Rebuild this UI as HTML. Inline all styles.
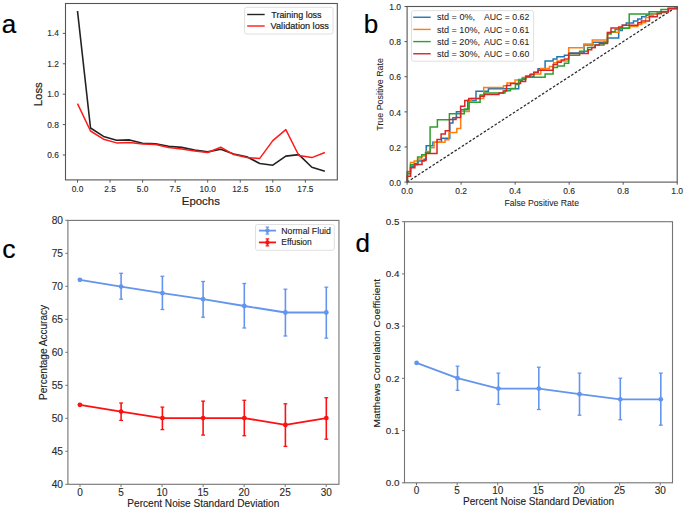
<!DOCTYPE html>
<html><head><meta charset="utf-8"><style>
html,body{margin:0;padding:0;background:#fff;overflow:hidden;width:685px;height:512px;}
svg{display:block;font-family:"Liberation Sans", sans-serif;}
</style></head><body>
<svg width="685" height="512" viewBox="0 0 685 512">
<rect width="685" height="512" fill="#fff"/>
<text x="1.80" y="32.80" font-size="26" text-anchor="start" fill="#000" stroke="#000" stroke-width="0.2" >a</text>
<rect x="65.50" y="3.50" width="271.80" height="176.40" fill="none" stroke="#555" stroke-width="1.1"/>
<line x1="62.80" y1="155.00" x2="65.50" y2="155.00" stroke="#555" stroke-width="1" />
<text x="58.80" y="157.90" font-size="8.4" text-anchor="end" fill="#2a2a2a" stroke="#2a2a2a" stroke-width="0.12" >0.6</text>
<line x1="62.80" y1="124.60" x2="65.50" y2="124.60" stroke="#555" stroke-width="1" />
<text x="58.80" y="127.50" font-size="8.4" text-anchor="end" fill="#2a2a2a" stroke="#2a2a2a" stroke-width="0.12" >0.8</text>
<line x1="62.80" y1="94.20" x2="65.50" y2="94.20" stroke="#555" stroke-width="1" />
<text x="58.80" y="97.10" font-size="8.4" text-anchor="end" fill="#2a2a2a" stroke="#2a2a2a" stroke-width="0.12" >1.0</text>
<line x1="62.80" y1="63.80" x2="65.50" y2="63.80" stroke="#555" stroke-width="1" />
<text x="58.80" y="66.70" font-size="8.4" text-anchor="end" fill="#2a2a2a" stroke="#2a2a2a" stroke-width="0.12" >1.2</text>
<line x1="62.80" y1="33.40" x2="65.50" y2="33.40" stroke="#555" stroke-width="1" />
<text x="58.80" y="36.30" font-size="8.4" text-anchor="end" fill="#2a2a2a" stroke="#2a2a2a" stroke-width="0.12" >1.4</text>
<line x1="77.50" y1="179.90" x2="77.50" y2="182.60" stroke="#555" stroke-width="1" />
<text x="77.50" y="191.90" font-size="8.3" text-anchor="middle" fill="#2a2a2a" stroke="#2a2a2a" stroke-width="0.12" >0.0</text>
<line x1="110.05" y1="179.90" x2="110.05" y2="182.60" stroke="#555" stroke-width="1" />
<text x="110.05" y="191.90" font-size="8.3" text-anchor="middle" fill="#2a2a2a" stroke="#2a2a2a" stroke-width="0.12" >2.5</text>
<line x1="142.60" y1="179.90" x2="142.60" y2="182.60" stroke="#555" stroke-width="1" />
<text x="142.60" y="191.90" font-size="8.3" text-anchor="middle" fill="#2a2a2a" stroke="#2a2a2a" stroke-width="0.12" >5.0</text>
<line x1="175.15" y1="179.90" x2="175.15" y2="182.60" stroke="#555" stroke-width="1" />
<text x="175.15" y="191.90" font-size="8.3" text-anchor="middle" fill="#2a2a2a" stroke="#2a2a2a" stroke-width="0.12" >7.5</text>
<line x1="207.70" y1="179.90" x2="207.70" y2="182.60" stroke="#555" stroke-width="1" />
<text x="207.70" y="191.90" font-size="8.3" text-anchor="middle" fill="#2a2a2a" stroke="#2a2a2a" stroke-width="0.12" >10.0</text>
<line x1="240.25" y1="179.90" x2="240.25" y2="182.60" stroke="#555" stroke-width="1" />
<text x="240.25" y="191.90" font-size="8.3" text-anchor="middle" fill="#2a2a2a" stroke="#2a2a2a" stroke-width="0.12" >12.5</text>
<line x1="272.80" y1="179.90" x2="272.80" y2="182.60" stroke="#555" stroke-width="1" />
<text x="272.80" y="191.90" font-size="8.3" text-anchor="middle" fill="#2a2a2a" stroke="#2a2a2a" stroke-width="0.12" >15.0</text>
<line x1="305.35" y1="179.90" x2="305.35" y2="182.60" stroke="#555" stroke-width="1" />
<text x="305.35" y="191.90" font-size="8.3" text-anchor="middle" fill="#2a2a2a" stroke="#2a2a2a" stroke-width="0.12" >17.5</text>
<text x="200.85" y="205.30" font-size="11.5" text-anchor="middle" fill="#222" stroke="#222" stroke-width="0.2" textLength="38.00" lengthAdjust="spacingAndGlyphs" >Epochs</text>
<text x="42.00" y="94.20" font-size="11.5" text-anchor="middle" fill="#222" stroke="#222" stroke-width="0.2" textLength="24.00" lengthAdjust="spacingAndGlyphs" transform="rotate(-90 42.00 94.20)" >Loss</text>
<polyline points="77.50,11.00 90.52,128.00 103.54,136.40 116.56,140.30 129.58,139.90 142.60,143.30 155.62,143.90 168.64,146.20 181.66,147.40 194.68,150.00 207.70,151.90 220.72,149.30 233.74,154.00 246.76,156.70 259.78,163.50 272.80,165.20 285.82,156.10 298.84,154.60 311.86,167.30 324.88,171.30" fill="none" stroke="#222" stroke-width="1.6" stroke-linejoin="round" />
<polyline points="77.50,103.60 90.52,131.00 103.54,139.20 116.56,142.90 129.58,142.50 142.60,144.00 155.62,144.60 168.64,147.40 181.66,149.00 194.68,151.00 207.70,152.50 220.72,147.20 233.74,154.60 246.76,157.60 259.78,158.40 272.80,140.60 285.82,129.60 298.84,155.50 311.86,157.60 324.88,152.50" fill="none" stroke="#ff1a1a" stroke-width="1.5" stroke-linejoin="round" />
<rect x="244.6" y="7.3" width="88.4" height="26.7" rx="2" fill="#fff" fill-opacity="0.8" stroke="#d8d8d8" stroke-width="0.8"/>
<line x1="247.20" y1="14.50" x2="264.70" y2="14.50" stroke="#222" stroke-width="1.4" />
<line x1="247.20" y1="26.00" x2="264.70" y2="26.00" stroke="#ff1a1a" stroke-width="1.4" />
<text x="271.30" y="17.60" font-size="9.0" text-anchor="start" fill="#222" stroke="#222" stroke-width="0.2" textLength="50.20" lengthAdjust="spacingAndGlyphs" >Training loss</text>
<text x="270.60" y="29.10" font-size="9.0" text-anchor="start" fill="#222" stroke="#222" stroke-width="0.2" textLength="58.30" lengthAdjust="spacingAndGlyphs" >Validation loss</text>
<text x="363.80" y="32.60" font-size="26" text-anchor="start" fill="#000" stroke="#000" stroke-width="0.2" >b</text>
<line x1="404.50" y1="182.10" x2="407.10" y2="182.10" stroke="#555" stroke-width="1" />
<text x="401.00" y="185.75" font-size="8.5" text-anchor="end" fill="#2a2a2a" stroke="#2a2a2a" stroke-width="0.12" >0.0</text>
<line x1="407.10" y1="182.10" x2="407.10" y2="184.70" stroke="#555" stroke-width="1" />
<text x="407.10" y="194.45" font-size="8.5" text-anchor="middle" fill="#2a2a2a" stroke="#2a2a2a" stroke-width="0.12" >0.0</text>
<line x1="404.50" y1="146.98" x2="407.10" y2="146.98" stroke="#555" stroke-width="1" />
<text x="401.00" y="150.63" font-size="8.5" text-anchor="end" fill="#2a2a2a" stroke="#2a2a2a" stroke-width="0.12" >0.2</text>
<line x1="461.12" y1="182.10" x2="461.12" y2="184.70" stroke="#555" stroke-width="1" />
<text x="461.12" y="194.45" font-size="8.5" text-anchor="middle" fill="#2a2a2a" stroke="#2a2a2a" stroke-width="0.12" >0.2</text>
<line x1="404.50" y1="111.86" x2="407.10" y2="111.86" stroke="#555" stroke-width="1" />
<text x="401.00" y="115.51" font-size="8.5" text-anchor="end" fill="#2a2a2a" stroke="#2a2a2a" stroke-width="0.12" >0.4</text>
<line x1="515.14" y1="182.10" x2="515.14" y2="184.70" stroke="#555" stroke-width="1" />
<text x="515.14" y="194.45" font-size="8.5" text-anchor="middle" fill="#2a2a2a" stroke="#2a2a2a" stroke-width="0.12" >0.4</text>
<line x1="404.50" y1="76.74" x2="407.10" y2="76.74" stroke="#555" stroke-width="1" />
<text x="401.00" y="80.39" font-size="8.5" text-anchor="end" fill="#2a2a2a" stroke="#2a2a2a" stroke-width="0.12" >0.6</text>
<line x1="569.16" y1="182.10" x2="569.16" y2="184.70" stroke="#555" stroke-width="1" />
<text x="569.16" y="194.45" font-size="8.5" text-anchor="middle" fill="#2a2a2a" stroke="#2a2a2a" stroke-width="0.12" >0.6</text>
<line x1="404.50" y1="41.62" x2="407.10" y2="41.62" stroke="#555" stroke-width="1" />
<text x="401.00" y="45.27" font-size="8.5" text-anchor="end" fill="#2a2a2a" stroke="#2a2a2a" stroke-width="0.12" >0.8</text>
<line x1="623.18" y1="182.10" x2="623.18" y2="184.70" stroke="#555" stroke-width="1" />
<text x="623.18" y="194.45" font-size="8.5" text-anchor="middle" fill="#2a2a2a" stroke="#2a2a2a" stroke-width="0.12" >0.8</text>
<line x1="404.50" y1="6.50" x2="407.10" y2="6.50" stroke="#555" stroke-width="1" />
<text x="401.00" y="10.15" font-size="8.5" text-anchor="end" fill="#2a2a2a" stroke="#2a2a2a" stroke-width="0.12" >1.0</text>
<line x1="677.20" y1="182.10" x2="677.20" y2="184.70" stroke="#555" stroke-width="1" />
<text x="677.20" y="194.45" font-size="8.5" text-anchor="middle" fill="#2a2a2a" stroke="#2a2a2a" stroke-width="0.12" >1.0</text>
<text x="541.70" y="205.70" font-size="8.7" text-anchor="middle" fill="#222" stroke="#222" stroke-width="0.05" textLength="74.50" lengthAdjust="spacingAndGlyphs" >False Positive Rate</text>
<text x="383.30" y="94.40" font-size="8.7" text-anchor="middle" fill="#222" stroke="#222" stroke-width="0.05" textLength="72.50" lengthAdjust="spacingAndGlyphs" transform="rotate(-90 383.30 94.40)" >True Positive Rate</text>
<line x1="407.10" y1="182.10" x2="677.20" y2="6.50" stroke="#2a2a2a" stroke-width="1.25" stroke-dasharray="2.6,1.75"/>
<path d="M407.1,182.1 L407.4,182.1 L407.4,173.7 L410.5,173.7 L410.5,166.2 L414.2,166.2 L414.2,163.5 L418.0,163.5 L418.0,161.0 L424.1,161.0 L424.1,159.3 L426.2,159.3 L426.2,145.7 L432.9,145.7 L432.9,142.2 L441.5,142.2 L441.5,138.3 L449.8,138.3 L449.8,123.1 L452.9,123.1 L452.9,117.7 L456.4,117.7 L456.4,111.8 L461.0,111.8 L461.0,109.8 L467.7,109.8 L467.7,100.5 L476.0,100.5 L476.0,91.3 L488.4,91.3 L488.4,88.7 L518.7,88.7 L518.7,79.5 L525.7,79.5 L525.7,76.5 L533.9,76.5 L533.9,72.5 L538.1,72.5 L538.1,68.7 L545.1,68.7 L545.1,61.1 L553.1,61.1 L553.1,59.0 L556.9,59.0 L556.9,56.8 L564.4,56.8 L564.4,55.2 L568.7,55.2 L568.7,53.1 L584.1,53.1 L584.1,45.1 L592.9,45.1 L592.9,42.2 L607.5,42.2 L607.5,38.1 L618.7,38.1 L618.7,30.5 L622.2,30.5 L622.2,25.2 L626.3,25.2 L626.3,23.0 L633.5,23.0 L633.5,21.1 L637.8,21.1 L637.8,19.1 L641.7,19.1 L641.7,16.8 L646.0,16.8 L646.0,15.2 L649.0,15.2 L649.0,14.1 L657.3,14.1 L657.3,12.5 L668.3,12.5 L668.3,8.6 L677.1,8.6 L677.1,6.5" fill="none" stroke="#1f77b4" stroke-width="1.5" stroke-linejoin="miter"/>
<path d="M407.1,182.1 L407.4,182.1 L407.4,171.5 L410.5,171.5 L410.5,162.4 L414.2,162.4 L414.2,161.1 L417.6,161.1 L417.6,159.0 L421.7,159.0 L421.7,156.0 L425.8,156.0 L425.8,151.5 L430.3,151.5 L430.3,147.7 L434.1,147.7 L434.1,142.2 L445.0,142.2 L445.0,139.8 L448.9,139.8 L448.9,132.4 L456.8,132.4 L456.8,128.6 L460.7,128.6 L460.7,111.4 L469.2,111.4 L469.2,100.6 L471.5,100.6 L471.5,98.6 L483.7,98.6 L483.7,87.5 L503.5,87.5 L503.5,85.8 L507.0,85.8 L507.0,83.0 L515.0,83.0 L515.0,80.0 L522.2,80.0 L522.2,77.6 L527.0,77.6 L527.0,76.0 L531.0,76.0 L531.0,74.0 L540.8,74.0 L540.8,68.6 L549.4,68.6 L549.4,66.5 L553.7,66.5 L553.7,62.7 L557.0,62.7 L557.0,61.1 L568.7,61.1 L568.7,47.7 L583.9,47.7 L583.9,44.0 L592.3,44.0 L592.3,39.9 L607.5,39.9 L607.5,32.2 L619.0,32.2 L619.0,28.1 L630.0,28.1 L630.0,26.6 L637.8,26.6 L637.8,24.6 L641.7,24.6 L641.7,22.7 L645.6,22.7 L645.6,17.6 L649.1,17.6 L649.1,15.6 L653.4,15.6 L653.4,14.1 L657.3,14.1 L657.3,11.7 L668.3,11.7 L668.3,8.6 L677.1,8.6 L677.1,6.5" fill="none" stroke="#ff7f0e" stroke-width="1.5" stroke-linejoin="miter"/>
<path d="M407.1,182.1 L407.4,182.1 L407.4,171.7 L410.5,171.7 L410.5,164.8 L417.6,164.8 L417.6,157.0 L421.7,157.0 L421.7,154.7 L425.5,154.7 L425.5,152.4 L430.1,152.4 L430.1,127.0 L437.4,127.0 L437.4,119.7 L449.4,119.7 L449.4,113.8 L464.3,113.8 L464.3,109.0 L468.9,109.0 L468.9,102.3 L480.1,102.3 L480.1,95.0 L484.2,95.0 L484.2,93.0 L505.0,93.0 L505.0,90.8 L510.5,90.8 L510.5,88.5 L515.4,88.5 L515.4,84.6 L518.7,84.6 L518.7,80.2 L522.3,80.2 L522.3,78.4 L525.7,78.4 L525.7,77.3 L545.1,77.3 L545.1,74.0 L553.1,74.0 L553.1,67.6 L557.4,67.6 L557.4,66.0 L564.4,66.0 L564.4,63.3 L568.7,63.3 L568.7,55.2 L579.6,55.2 L579.6,51.3 L587.6,51.3 L587.6,47.5 L595.0,47.5 L595.0,45.0 L604.0,45.0 L604.0,42.2 L607.5,42.2 L607.5,34.0 L611.0,34.0 L611.0,31.7 L615.1,31.7 L615.1,29.5 L620.0,29.5 L620.0,28.2 L629.2,28.2 L629.2,14.1 L649.1,14.1 L649.1,11.7 L661.0,11.7 L661.0,9.5 L668.3,9.5 L668.3,8.6 L677.1,8.6 L677.1,6.5" fill="none" stroke="#2ca02c" stroke-width="1.5" stroke-linejoin="miter"/>
<path d="M407.1,182.1 L407.2,182.1 L407.2,176.2 L410.6,176.2 L410.6,167.7 L414.9,167.7 L414.9,164.5 L422.0,164.5 L422.0,160.6 L426.0,160.6 L426.0,153.4 L437.0,153.4 L437.0,139.5 L441.1,139.5 L441.1,134.0 L445.3,134.0 L445.3,130.8 L449.4,130.8 L449.4,119.6 L456.0,119.6 L456.0,117.6 L460.6,117.6 L460.6,106.3 L464.8,106.3 L464.8,100.4 L468.8,100.4 L468.8,98.4 L480.1,98.4 L480.1,96.3 L484.4,96.3 L484.4,94.6 L499.0,94.6 L499.0,92.9 L503.2,92.9 L503.2,91.1 L506.5,91.1 L506.5,85.4 L510.6,85.4 L510.6,83.4 L520.5,83.4 L520.5,81.5 L525.6,81.5 L525.6,76.3 L529.9,76.3 L529.9,74.4 L533.9,74.4 L533.9,72.2 L538.1,72.2 L538.1,70.3 L553.1,70.3 L553.1,64.4 L557.4,64.4 L557.4,62.2 L561.2,62.2 L561.2,60.1 L564.4,60.1 L564.4,59.0 L568.7,59.0 L568.7,53.5 L588.2,53.5 L588.2,49.8 L591.7,49.8 L591.7,47.5 L595.2,47.5 L595.2,45.1 L599.3,45.1 L599.3,43.4 L607.5,43.4 L607.5,32.8 L611.0,32.8 L611.0,28.1 L618.7,28.1 L618.7,27.0 L622.5,27.0 L622.5,25.3 L637.8,25.3 L637.8,22.7 L641.3,22.7 L641.3,21.1 L649.5,21.1 L649.5,16.8 L657.3,16.8 L657.3,13.7 L661.3,13.7 L661.3,11.7 L668.3,11.7 L668.3,8.6 L677.1,8.6 L677.1,6.5" fill="none" stroke="#d62728" stroke-width="1.5" stroke-linejoin="miter"/>
<rect x="407.10" y="6.50" width="270.10" height="175.60" fill="none" stroke="#555" stroke-width="1.1"/>
<rect x="411.5" y="10.6" width="122.1" height="50.6" rx="2" fill="#fff" fill-opacity="0.8" stroke="#d8d8d8" stroke-width="0.8"/>
<line x1="413.20" y1="17.25" x2="430.70" y2="17.25" stroke="#1f77b4" stroke-width="1.4" />
<text x="436.90" y="20.45" font-size="8.8" text-anchor="start" fill="#222" stroke="#222" stroke-width="0.05" textLength="38.20" lengthAdjust="spacingAndGlyphs" >std = 0%,</text>
<text x="484.00" y="20.45" font-size="8.8" text-anchor="start" fill="#222" stroke="#222" stroke-width="0.05" textLength="45.30" lengthAdjust="spacingAndGlyphs" >AUC = 0.62</text>
<line x1="413.20" y1="29.42" x2="430.70" y2="29.42" stroke="#ff7f0e" stroke-width="1.4" />
<text x="436.90" y="32.62" font-size="8.8" text-anchor="start" fill="#222" stroke="#222" stroke-width="0.05" textLength="43.20" lengthAdjust="spacingAndGlyphs" >std = 10%,</text>
<text x="484.00" y="32.62" font-size="8.8" text-anchor="start" fill="#222" stroke="#222" stroke-width="0.05" textLength="45.30" lengthAdjust="spacingAndGlyphs" >AUC = 0.61</text>
<line x1="413.20" y1="41.59" x2="430.70" y2="41.59" stroke="#2ca02c" stroke-width="1.4" />
<text x="436.90" y="44.79" font-size="8.8" text-anchor="start" fill="#222" stroke="#222" stroke-width="0.05" textLength="43.20" lengthAdjust="spacingAndGlyphs" >std = 20%,</text>
<text x="484.00" y="44.79" font-size="8.8" text-anchor="start" fill="#222" stroke="#222" stroke-width="0.05" textLength="45.30" lengthAdjust="spacingAndGlyphs" >AUC = 0.61</text>
<line x1="413.20" y1="53.76" x2="430.70" y2="53.76" stroke="#d62728" stroke-width="1.4" />
<text x="436.90" y="56.96" font-size="8.8" text-anchor="start" fill="#222" stroke="#222" stroke-width="0.05" textLength="43.20" lengthAdjust="spacingAndGlyphs" >std = 30%,</text>
<text x="484.00" y="56.96" font-size="8.8" text-anchor="start" fill="#222" stroke="#222" stroke-width="0.05" textLength="45.30" lengthAdjust="spacingAndGlyphs" >AUC = 0.60</text>
<text x="2.30" y="257.70" font-size="26.5" text-anchor="start" fill="#000" stroke="#000" stroke-width="0.2" >c</text>
<rect x="67.90" y="220.40" width="271.05" height="263.90" fill="none" stroke="#747474" stroke-width="1.1"/>
<line x1="65.30" y1="484.30" x2="67.90" y2="484.30" stroke="#747474" stroke-width="1" />
<text x="63.00" y="488.40" font-size="10.2" text-anchor="end" fill="#2a2a2a" stroke="#2a2a2a" stroke-width="0.12" >40</text>
<line x1="65.30" y1="451.30" x2="67.90" y2="451.30" stroke="#747474" stroke-width="1" />
<text x="63.00" y="455.40" font-size="10.2" text-anchor="end" fill="#2a2a2a" stroke="#2a2a2a" stroke-width="0.12" >45</text>
<line x1="65.30" y1="418.30" x2="67.90" y2="418.30" stroke="#747474" stroke-width="1" />
<text x="63.00" y="422.40" font-size="10.2" text-anchor="end" fill="#2a2a2a" stroke="#2a2a2a" stroke-width="0.12" >50</text>
<line x1="65.30" y1="385.30" x2="67.90" y2="385.30" stroke="#747474" stroke-width="1" />
<text x="63.00" y="389.40" font-size="10.2" text-anchor="end" fill="#2a2a2a" stroke="#2a2a2a" stroke-width="0.12" >55</text>
<line x1="65.30" y1="352.30" x2="67.90" y2="352.30" stroke="#747474" stroke-width="1" />
<text x="63.00" y="356.40" font-size="10.2" text-anchor="end" fill="#2a2a2a" stroke="#2a2a2a" stroke-width="0.12" >60</text>
<line x1="65.30" y1="319.30" x2="67.90" y2="319.30" stroke="#747474" stroke-width="1" />
<text x="63.00" y="323.40" font-size="10.2" text-anchor="end" fill="#2a2a2a" stroke="#2a2a2a" stroke-width="0.12" >65</text>
<line x1="65.30" y1="286.30" x2="67.90" y2="286.30" stroke="#747474" stroke-width="1" />
<text x="63.00" y="290.40" font-size="10.2" text-anchor="end" fill="#2a2a2a" stroke="#2a2a2a" stroke-width="0.12" >70</text>
<line x1="65.30" y1="253.30" x2="67.90" y2="253.30" stroke="#747474" stroke-width="1" />
<text x="63.00" y="257.40" font-size="10.2" text-anchor="end" fill="#2a2a2a" stroke="#2a2a2a" stroke-width="0.12" >75</text>
<line x1="65.30" y1="220.30" x2="67.90" y2="220.30" stroke="#747474" stroke-width="1" />
<text x="63.00" y="224.40" font-size="10.2" text-anchor="end" fill="#2a2a2a" stroke="#2a2a2a" stroke-width="0.12" >80</text>
<line x1="80.00" y1="484.30" x2="80.00" y2="486.90" stroke="#747474" stroke-width="1" />
<text x="80.00" y="495.90" font-size="10.0" text-anchor="middle" fill="#2a2a2a" stroke="#2a2a2a" stroke-width="0.12" >0</text>
<line x1="121.03" y1="484.30" x2="121.03" y2="486.90" stroke="#747474" stroke-width="1" />
<text x="121.03" y="495.90" font-size="10.0" text-anchor="middle" fill="#2a2a2a" stroke="#2a2a2a" stroke-width="0.12" >5</text>
<line x1="162.07" y1="484.30" x2="162.07" y2="486.90" stroke="#747474" stroke-width="1" />
<text x="162.07" y="495.90" font-size="10.0" text-anchor="middle" fill="#2a2a2a" stroke="#2a2a2a" stroke-width="0.12" >10</text>
<line x1="203.11" y1="484.30" x2="203.11" y2="486.90" stroke="#747474" stroke-width="1" />
<text x="203.11" y="495.90" font-size="10.0" text-anchor="middle" fill="#2a2a2a" stroke="#2a2a2a" stroke-width="0.12" >15</text>
<line x1="244.14" y1="484.30" x2="244.14" y2="486.90" stroke="#747474" stroke-width="1" />
<text x="244.14" y="495.90" font-size="10.0" text-anchor="middle" fill="#2a2a2a" stroke="#2a2a2a" stroke-width="0.12" >20</text>
<line x1="285.18" y1="484.30" x2="285.18" y2="486.90" stroke="#747474" stroke-width="1" />
<text x="285.18" y="495.90" font-size="10.0" text-anchor="middle" fill="#2a2a2a" stroke="#2a2a2a" stroke-width="0.12" >25</text>
<line x1="326.21" y1="484.30" x2="326.21" y2="486.90" stroke="#747474" stroke-width="1" />
<text x="326.21" y="495.90" font-size="10.0" text-anchor="middle" fill="#2a2a2a" stroke="#2a2a2a" stroke-width="0.12" >30</text>
<text x="203.30" y="506.60" font-size="10.0" text-anchor="middle" fill="#222" stroke="#222" stroke-width="0.12" textLength="152.00" lengthAdjust="spacingAndGlyphs" >Percent Noise Standard Deviation</text>
<text x="47.40" y="352.45" font-size="10.0" text-anchor="middle" fill="#222" stroke="#222" stroke-width="0.12" textLength="95.00" lengthAdjust="spacingAndGlyphs" transform="rotate(-90 47.40 352.45)" >Percentage Accuracy</text>
<polyline points="79.90,279.80 121.10,286.60 162.40,293.10 203.10,299.20 244.30,306.00 285.40,312.50 326.30,312.50" fill="none" stroke="#6495ed" stroke-width="1.8" stroke-linejoin="round" />
<circle cx="79.90" cy="279.80" r="2.4" fill="#6495ed"/>
<line x1="121.10" y1="273.30" x2="121.10" y2="299.20" stroke="#6495ed" stroke-width="1.6" />
<line x1="119.20" y1="273.30" x2="123.00" y2="273.30" stroke="#6495ed" stroke-width="1.3" />
<line x1="119.20" y1="299.20" x2="123.00" y2="299.20" stroke="#6495ed" stroke-width="1.3" />
<circle cx="121.10" cy="286.60" r="2.4" fill="#6495ed"/>
<line x1="162.40" y1="276.30" x2="162.40" y2="309.50" stroke="#6495ed" stroke-width="1.6" />
<line x1="160.50" y1="276.30" x2="164.30" y2="276.30" stroke="#6495ed" stroke-width="1.3" />
<line x1="160.50" y1="309.50" x2="164.30" y2="309.50" stroke="#6495ed" stroke-width="1.3" />
<circle cx="162.40" cy="293.10" r="2.4" fill="#6495ed"/>
<line x1="203.10" y1="281.50" x2="203.10" y2="317.20" stroke="#6495ed" stroke-width="1.6" />
<line x1="201.20" y1="281.50" x2="205.00" y2="281.50" stroke="#6495ed" stroke-width="1.3" />
<line x1="201.20" y1="317.20" x2="205.00" y2="317.20" stroke="#6495ed" stroke-width="1.3" />
<circle cx="203.10" cy="299.20" r="2.4" fill="#6495ed"/>
<line x1="244.30" y1="283.50" x2="244.30" y2="328.00" stroke="#6495ed" stroke-width="1.6" />
<line x1="242.40" y1="283.50" x2="246.20" y2="283.50" stroke="#6495ed" stroke-width="1.3" />
<line x1="242.40" y1="328.00" x2="246.20" y2="328.00" stroke="#6495ed" stroke-width="1.3" />
<circle cx="244.30" cy="306.00" r="2.4" fill="#6495ed"/>
<line x1="285.40" y1="289.20" x2="285.40" y2="336.00" stroke="#6495ed" stroke-width="1.6" />
<line x1="283.50" y1="289.20" x2="287.30" y2="289.20" stroke="#6495ed" stroke-width="1.3" />
<line x1="283.50" y1="336.00" x2="287.30" y2="336.00" stroke="#6495ed" stroke-width="1.3" />
<circle cx="285.40" cy="312.50" r="2.4" fill="#6495ed"/>
<line x1="326.30" y1="287.20" x2="326.30" y2="338.10" stroke="#6495ed" stroke-width="1.6" />
<line x1="324.40" y1="287.20" x2="328.20" y2="287.20" stroke="#6495ed" stroke-width="1.3" />
<line x1="324.40" y1="338.10" x2="328.20" y2="338.10" stroke="#6495ed" stroke-width="1.3" />
<circle cx="326.30" cy="312.50" r="2.4" fill="#6495ed"/>
<polyline points="79.90,404.80 121.10,411.60 162.40,418.10 203.10,418.10 244.30,418.10 285.40,424.90 326.30,418.10" fill="none" stroke="#ff1010" stroke-width="1.8" stroke-linejoin="round" />
<circle cx="79.90" cy="404.80" r="2.4" fill="#ff1010"/>
<line x1="121.10" y1="403.00" x2="121.10" y2="420.40" stroke="#ff1010" stroke-width="1.6" />
<line x1="119.20" y1="403.00" x2="123.00" y2="403.00" stroke="#ff1010" stroke-width="1.3" />
<line x1="119.20" y1="420.40" x2="123.00" y2="420.40" stroke="#ff1010" stroke-width="1.3" />
<circle cx="121.10" cy="411.60" r="2.4" fill="#ff1010"/>
<line x1="162.40" y1="407.10" x2="162.40" y2="429.60" stroke="#ff1010" stroke-width="1.6" />
<line x1="160.50" y1="407.10" x2="164.30" y2="407.10" stroke="#ff1010" stroke-width="1.3" />
<line x1="160.50" y1="429.60" x2="164.30" y2="429.60" stroke="#ff1010" stroke-width="1.3" />
<circle cx="162.40" cy="418.10" r="2.4" fill="#ff1010"/>
<line x1="203.10" y1="401.10" x2="203.10" y2="435.10" stroke="#ff1010" stroke-width="1.6" />
<line x1="201.20" y1="401.10" x2="205.00" y2="401.10" stroke="#ff1010" stroke-width="1.3" />
<line x1="201.20" y1="435.10" x2="205.00" y2="435.10" stroke="#ff1010" stroke-width="1.3" />
<circle cx="203.10" cy="418.10" r="2.4" fill="#ff1010"/>
<line x1="244.30" y1="400.30" x2="244.30" y2="435.70" stroke="#ff1010" stroke-width="1.6" />
<line x1="242.40" y1="400.30" x2="246.20" y2="400.30" stroke="#ff1010" stroke-width="1.3" />
<line x1="242.40" y1="435.70" x2="246.20" y2="435.70" stroke="#ff1010" stroke-width="1.3" />
<circle cx="244.30" cy="418.10" r="2.4" fill="#ff1010"/>
<line x1="285.40" y1="403.80" x2="285.40" y2="446.40" stroke="#ff1010" stroke-width="1.6" />
<line x1="283.50" y1="403.80" x2="287.30" y2="403.80" stroke="#ff1010" stroke-width="1.3" />
<line x1="283.50" y1="446.40" x2="287.30" y2="446.40" stroke="#ff1010" stroke-width="1.3" />
<circle cx="285.40" cy="424.90" r="2.4" fill="#ff1010"/>
<line x1="326.30" y1="397.70" x2="326.30" y2="439.20" stroke="#ff1010" stroke-width="1.6" />
<line x1="324.40" y1="397.70" x2="328.20" y2="397.70" stroke="#ff1010" stroke-width="1.3" />
<line x1="324.40" y1="439.20" x2="328.20" y2="439.20" stroke="#ff1010" stroke-width="1.3" />
<circle cx="326.30" cy="418.10" r="2.4" fill="#ff1010"/>
<rect x="255.5" y="224.5" width="78.8" height="25.8" rx="2" fill="#fff" fill-opacity="0.8" stroke="#d8d8d8" stroke-width="0.8"/>
<line x1="258.90" y1="230.60" x2="276.00" y2="230.60" stroke="#6495ed" stroke-width="1.8" />
<line x1="267.40" y1="227.10" x2="267.40" y2="234.10" stroke="#6495ed" stroke-width="1.5" />
<line x1="265.60" y1="227.10" x2="269.20" y2="227.10" stroke="#6495ed" stroke-width="1.2" />
<line x1="265.60" y1="234.10" x2="269.20" y2="234.10" stroke="#6495ed" stroke-width="1.2" />
<circle cx="267.4" cy="230.60" r="2.2" fill="#6495ed"/>
<text x="281.30" y="233.60" font-size="8.5" text-anchor="start" fill="#222" stroke="#222" stroke-width="0.12" textLength="49.50" lengthAdjust="spacingAndGlyphs" >Normal Fluid</text>
<line x1="258.90" y1="242.40" x2="276.00" y2="242.40" stroke="#ff1010" stroke-width="1.8" />
<line x1="267.40" y1="238.90" x2="267.40" y2="245.90" stroke="#ff1010" stroke-width="1.5" />
<line x1="265.60" y1="238.90" x2="269.20" y2="238.90" stroke="#ff1010" stroke-width="1.2" />
<line x1="265.60" y1="245.90" x2="269.20" y2="245.90" stroke="#ff1010" stroke-width="1.2" />
<circle cx="267.4" cy="242.40" r="2.2" fill="#ff1010"/>
<text x="281.30" y="245.40" font-size="8.5" text-anchor="start" fill="#222" stroke="#222" stroke-width="0.12" textLength="30.50" lengthAdjust="spacingAndGlyphs" >Effusion</text>
<text x="355.50" y="251.60" font-size="26" text-anchor="start" fill="#000" stroke="#000" stroke-width="0.2" >d</text>
<rect x="404.50" y="221.70" width="268.00" height="261.10" fill="none" stroke="#747474" stroke-width="1.1"/>
<line x1="401.90" y1="482.80" x2="404.50" y2="482.80" stroke="#747474" stroke-width="1" />
<text x="399.50" y="486.10" font-size="9.9" text-anchor="end" fill="#2a2a2a" stroke="#2a2a2a" stroke-width="0.12" >0.0</text>
<line x1="401.90" y1="430.58" x2="404.50" y2="430.58" stroke="#747474" stroke-width="1" />
<text x="399.50" y="433.88" font-size="9.9" text-anchor="end" fill="#2a2a2a" stroke="#2a2a2a" stroke-width="0.12" >0.1</text>
<line x1="401.90" y1="378.36" x2="404.50" y2="378.36" stroke="#747474" stroke-width="1" />
<text x="399.50" y="381.66" font-size="9.9" text-anchor="end" fill="#2a2a2a" stroke="#2a2a2a" stroke-width="0.12" >0.2</text>
<line x1="401.90" y1="326.14" x2="404.50" y2="326.14" stroke="#747474" stroke-width="1" />
<text x="399.50" y="329.44" font-size="9.9" text-anchor="end" fill="#2a2a2a" stroke="#2a2a2a" stroke-width="0.12" >0.3</text>
<line x1="401.90" y1="273.92" x2="404.50" y2="273.92" stroke="#747474" stroke-width="1" />
<text x="399.50" y="277.22" font-size="9.9" text-anchor="end" fill="#2a2a2a" stroke="#2a2a2a" stroke-width="0.12" >0.4</text>
<line x1="401.90" y1="221.70" x2="404.50" y2="221.70" stroke="#747474" stroke-width="1" />
<text x="399.50" y="225.00" font-size="9.9" text-anchor="end" fill="#2a2a2a" stroke="#2a2a2a" stroke-width="0.12" >0.5</text>
<line x1="416.50" y1="482.80" x2="416.50" y2="485.40" stroke="#747474" stroke-width="1" />
<text x="416.50" y="494.20" font-size="10.0" text-anchor="middle" fill="#2a2a2a" stroke="#2a2a2a" stroke-width="0.12" >0</text>
<line x1="457.12" y1="482.80" x2="457.12" y2="485.40" stroke="#747474" stroke-width="1" />
<text x="457.12" y="494.20" font-size="10.0" text-anchor="middle" fill="#2a2a2a" stroke="#2a2a2a" stroke-width="0.12" >5</text>
<line x1="497.73" y1="482.80" x2="497.73" y2="485.40" stroke="#747474" stroke-width="1" />
<text x="497.73" y="494.20" font-size="10.0" text-anchor="middle" fill="#2a2a2a" stroke="#2a2a2a" stroke-width="0.12" >10</text>
<line x1="538.35" y1="482.80" x2="538.35" y2="485.40" stroke="#747474" stroke-width="1" />
<text x="538.35" y="494.20" font-size="10.0" text-anchor="middle" fill="#2a2a2a" stroke="#2a2a2a" stroke-width="0.12" >15</text>
<line x1="578.96" y1="482.80" x2="578.96" y2="485.40" stroke="#747474" stroke-width="1" />
<text x="578.96" y="494.20" font-size="10.0" text-anchor="middle" fill="#2a2a2a" stroke="#2a2a2a" stroke-width="0.12" >20</text>
<line x1="619.58" y1="482.80" x2="619.58" y2="485.40" stroke="#747474" stroke-width="1" />
<text x="619.58" y="494.20" font-size="10.0" text-anchor="middle" fill="#2a2a2a" stroke="#2a2a2a" stroke-width="0.12" >25</text>
<line x1="660.19" y1="482.80" x2="660.19" y2="485.40" stroke="#747474" stroke-width="1" />
<text x="660.19" y="494.20" font-size="10.0" text-anchor="middle" fill="#2a2a2a" stroke="#2a2a2a" stroke-width="0.12" >30</text>
<text x="538.60" y="505.20" font-size="10.1" text-anchor="middle" fill="#222" stroke="#222" stroke-width="0.12" textLength="151.00" lengthAdjust="spacingAndGlyphs" >Percent Noise Standard Deviation</text>
<text x="380.40" y="353.20" font-size="9.9" text-anchor="middle" fill="#222" stroke="#222" stroke-width="0.12" textLength="148.50" lengthAdjust="spacingAndGlyphs" transform="rotate(-90 380.40 353.20)" >Matthews Correlation Coefficient</text>
<polyline points="416.60,362.90 457.50,378.20 498.40,388.60 538.80,388.60 579.50,394.20 620.30,399.30 660.80,399.30" fill="none" stroke="#6495ed" stroke-width="1.8" stroke-linejoin="round" />
<circle cx="416.60" cy="362.90" r="2.4" fill="#6495ed"/>
<line x1="457.50" y1="366.20" x2="457.50" y2="390.30" stroke="#6495ed" stroke-width="1.6" />
<line x1="455.60" y1="366.20" x2="459.40" y2="366.20" stroke="#6495ed" stroke-width="1.3" />
<line x1="455.60" y1="390.30" x2="459.40" y2="390.30" stroke="#6495ed" stroke-width="1.3" />
<circle cx="457.50" cy="378.20" r="2.4" fill="#6495ed"/>
<line x1="498.40" y1="373.10" x2="498.40" y2="404.40" stroke="#6495ed" stroke-width="1.6" />
<line x1="496.50" y1="373.10" x2="500.30" y2="373.10" stroke="#6495ed" stroke-width="1.3" />
<line x1="496.50" y1="404.40" x2="500.30" y2="404.40" stroke="#6495ed" stroke-width="1.3" />
<circle cx="498.40" cy="388.60" r="2.4" fill="#6495ed"/>
<line x1="538.80" y1="367.20" x2="538.80" y2="409.50" stroke="#6495ed" stroke-width="1.6" />
<line x1="536.90" y1="367.20" x2="540.70" y2="367.20" stroke="#6495ed" stroke-width="1.3" />
<line x1="536.90" y1="409.50" x2="540.70" y2="409.50" stroke="#6495ed" stroke-width="1.3" />
<circle cx="538.80" cy="388.60" r="2.4" fill="#6495ed"/>
<line x1="579.50" y1="373.10" x2="579.50" y2="415.20" stroke="#6495ed" stroke-width="1.6" />
<line x1="577.60" y1="373.10" x2="581.40" y2="373.10" stroke="#6495ed" stroke-width="1.3" />
<line x1="577.60" y1="415.20" x2="581.40" y2="415.20" stroke="#6495ed" stroke-width="1.3" />
<circle cx="579.50" cy="394.20" r="2.4" fill="#6495ed"/>
<line x1="620.30" y1="378.20" x2="620.30" y2="419.70" stroke="#6495ed" stroke-width="1.6" />
<line x1="618.40" y1="378.20" x2="622.20" y2="378.20" stroke="#6495ed" stroke-width="1.3" />
<line x1="618.40" y1="419.70" x2="622.20" y2="419.70" stroke="#6495ed" stroke-width="1.3" />
<circle cx="620.30" cy="399.30" r="2.4" fill="#6495ed"/>
<line x1="660.80" y1="373.10" x2="660.80" y2="425.20" stroke="#6495ed" stroke-width="1.6" />
<line x1="658.90" y1="373.10" x2="662.70" y2="373.10" stroke="#6495ed" stroke-width="1.3" />
<line x1="658.90" y1="425.20" x2="662.70" y2="425.20" stroke="#6495ed" stroke-width="1.3" />
<circle cx="660.80" cy="399.30" r="2.4" fill="#6495ed"/>
</svg>
</body></html>
